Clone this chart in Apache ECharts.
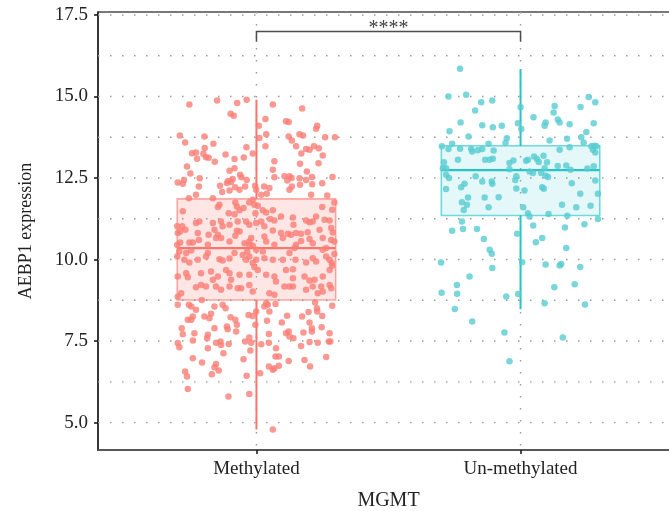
<!DOCTYPE html>
<html>
<head>
<meta charset="utf-8">
<title>AEBP1 expression by MGMT status</title>
<script src="https://cdn.jsdelivr.net/npm/echarts@6/dist/echarts.min.js"></script>
<style>
  html, body { margin: 0; padding: 0; background: #ffffff; }
  #chart { width: 669px; height: 511px; }
</style>
</head>
<body>
<div id="chart"></div>
<script>
// ---- data ---------------------------------------------------------------
const categories = ['Methylated', 'Un-methylated'];
const yTickValues = [5, 7.5, 10, 12.5, 15, 17.5];
const yGridValues = [5, 6.25, 7.5, 8.75, 10, 11.25, 12.5, 13.75, 15, 16.25, 17.5];

// lower whisker, Q1, median, Q3, upper whisker
const methylatedBox = [4.79, 8.76, 10.35, 11.86, 14.90];
const unmethylatedBox = [8.48, 11.35, 12.74, 13.49, 15.84];

// significance bracket between the two groups
const bracketLevel = 16.99;
const bracketTip = 16.68;
const signifLabel = '****';

// jittered samples: [horizontal jitter (category units), AEBP1 expression]
const methylatedPoints = [
  [-0.254,14.75],[-0.149,14.88],[-0.073,14.80],[-0.037,14.90],[0.062,14.75],[0.173,14.63],
  [-0.098,14.47],[-0.086,14.41],[0.034,14.31],[0.009,14.10],[0.112,14.24],[0.122,14.22],
  [0.230,14.10],[0.226,14.01],[-0.290,13.80],[-0.197,13.77],[-0.270,13.59],[-0.163,13.55],
  [0.037,13.84],[0.011,13.73],[0.122,13.77],[0.163,13.84],[0.176,13.80],[0.260,13.75],
  [0.297,13.75],[0.134,13.65],[0.034,13.47],[-0.038,13.44],[0.150,13.47],[0.218,13.47],
  [0.236,13.41],[0.188,13.39],[0.201,13.37],[-0.196,13.42],[-0.244,13.26],[-0.229,13.28],
  [-0.201,13.24],[-0.225,13.09],[-0.191,13.14],[-0.181,13.12],[-0.117,13.22],[-0.014,13.25],
  [-0.048,13.13],[-0.083,13.08],[-0.158,13.00],[0.170,13.25],[0.251,13.19],[0.068,13.01],
  [0.165,12.94],[0.235,12.95],[-0.263,12.85],[-0.250,12.64],[-0.083,12.80],[-0.102,12.72],
  [-0.062,12.60],[0.062,12.75],[0.191,12.70],[-0.215,12.49],[-0.274,12.44],[-0.298,12.36],
  [-0.279,12.32],[-0.057,12.52],[-0.037,12.44],[-0.107,12.41],[-0.090,12.47],[-0.096,12.38],
  [-0.112,12.35],[0.068,12.52],[0.106,12.55],[0.125,12.55],[0.133,12.50],[0.163,12.49],
  [0.188,12.44],[0.210,12.53],[0.288,12.53],[0.117,12.42],[0.211,12.31],[0.249,12.34],
  [-0.218,12.24],[-0.138,12.26],[-0.081,12.22],[-0.043,12.24],[-0.005,12.26],[0.029,12.24],
  [0.049,12.19],[0.165,12.29],[0.134,12.24],
  [-0.130,12.07],[-0.102,12.12],[-0.064,12.14],[-0.001,12.14],[0.018,11.99],[0.039,12.02],
  [0.125,12.14],[0.207,11.99],[0.268,11.96],[-0.229,11.99],[-0.165,11.88],[-0.256,11.88],
  [-0.279,11.48],[-0.140,11.68],[-0.146,11.61],[-0.080,11.75],[-0.074,11.63],[-0.027,11.75],
  [-0.014,11.83],[-0.008,11.68],[0.005,11.65],[0.024,11.51],[0.037,11.44],[-0.004,11.42],
  [-0.064,11.51],[-0.049,11.58],[-0.083,11.39],[-0.105,11.42],[0.295,11.75],[0.287,11.53],
  [0.249,11.61],[0.226,11.32],[0.213,11.17],[0.201,11.14],[0.188,11.20],[0.258,11.22],
  [0.277,11.20],[0.138,11.29],[0.140,11.07],[0.093,11.32],[0.062,11.51],
  [-0.300,11.02],[-0.281,11.02],[-0.289,10.86],[-0.298,10.81],[-0.269,10.91],[-0.229,11.12],
  [-0.216,11.17],[-0.222,10.81],[-0.165,11.12],[-0.134,11.17],[-0.128,11.02],[-0.102,11.07],
  [-0.071,11.17],[-0.039,11.17],[-0.027,11.07],[-0.001,11.12],[0.018,11.17],[0.030,11.02],
  [0.052,11.24],[0.068,11.20],[0.062,10.89],[0.093,10.81],[0.119,10.79],[0.131,10.76],
  [0.150,10.81],[0.169,10.79],[0.194,10.84],[0.239,10.91],[0.289,10.83],[0.283,10.97],
  [-0.064,10.86],[-0.074,10.88],[-0.159,10.91],[-0.181,10.76],[-0.146,10.76],
  [-0.300,10.45],[-0.289,10.52],[-0.254,10.52],[-0.241,10.52],[-0.218,10.60],[-0.184,10.45],
  [-0.153,10.66],[-0.134,10.66],[-0.102,10.55],[-0.080,10.73],[-0.045,10.50],[-0.027,10.55],
  [-0.020,10.66],[-0.014,10.42],[-0.001,10.30],[-0.027,10.45],[0.037,10.55],[0.068,10.45],
  [0.100,10.66],[0.150,10.45],[0.169,10.57],[0.201,10.63],[0.213,10.50],[0.251,10.66],
  [0.283,10.60],[0.295,10.55],[0.264,10.35],[0.030,10.71],
  [-0.300,10.09],[-0.292,10.25],[-0.266,10.20],[-0.247,10.28],[-0.273,9.99],[-0.254,9.91],
  [-0.222,9.99],[-0.191,10.09],[-0.184,10.20],[-0.140,10.01],[-0.128,9.97],[-0.102,10.03],
  [-0.083,10.20],[-0.052,10.14],[-0.035,10.25],[-0.027,10.09],[-0.039,9.99],[-0.014,9.89],
  [-0.001,9.99],[0.024,10.25],[0.030,10.04],[0.062,9.99],[0.100,9.99],[0.125,10.20],
  [0.144,10.35],[0.148,9.99],[0.188,9.91],[0.213,10.04],[0.226,9.94],[0.251,10.30],
  [0.264,10.09],[0.277,9.99],[0.285,9.89],[0.295,10.17],
  [-0.298,9.48],[-0.266,9.58],[-0.260,9.46],[-0.210,9.58],[-0.172,9.63],[-0.165,9.38],
  [-0.146,9.48],[-0.115,9.68],[-0.102,9.58],[-0.096,9.38],[-0.064,9.53],[-0.027,9.53],
  [-0.008,9.77],[0.005,9.68],[0.037,9.53],[0.068,9.48],[0.074,9.33],[0.112,9.68],
  [0.138,9.70],[0.138,9.43],[0.182,9.48],[0.201,9.36],[0.220,9.38],[0.251,9.48],
  [0.277,9.68],[0.287,9.81],
  [-0.298,8.86],[-0.285,8.97],[-0.229,9.15],[-0.210,9.22],[-0.191,9.17],[-0.153,9.17],
  [-0.134,9.07],[-0.102,9.17],[-0.071,9.12],[-0.058,9.12],[-0.027,9.22],[-0.014,9.02],
  [0.049,8.97],[0.068,8.92],[0.106,9.17],[0.125,9.17],[0.138,9.17],[0.188,9.07],
  [0.213,9.17],[0.232,8.97],[0.245,9.17],[0.251,9.02],[0.277,9.22],[0.283,9.12],
  [-0.298,8.61],[-0.256,8.61],[-0.247,8.56],[-0.229,8.46],[-0.241,8.25],[-0.260,8.15],
  [-0.247,8.15],[-0.283,7.89],[-0.279,7.71],[-0.235,7.74],[-0.241,7.52],[-0.207,8.76],
  [-0.197,8.25],[-0.178,8.20],[-0.172,8.34],[-0.159,8.56],[-0.128,8.61],[-0.117,8.51],
  [-0.098,8.23],[-0.080,8.15],[-0.074,8.00],[-0.077,7.79],[-0.112,7.95],[-0.109,7.86],
  [-0.159,7.89],[-0.184,7.69],[-0.187,7.59],[-0.153,7.45],[-0.136,7.49],[-0.134,7.38],
  [-0.125,7.13],[-0.105,7.41],[-0.184,7.28],[-0.241,6.97],[-0.206,6.84],[-0.298,7.44],
  [-0.292,7.31],[-0.270,6.57],[-0.263,6.41],[-0.260,6.03],[-0.159,6.70],[-0.143,6.60],
  [-0.153,6.80],[-0.169,6.48],[-0.106,5.80],[-0.049,6.94],[-0.037,6.44],[-0.027,5.88],
  [-0.023,7.21],[-0.020,7.45],[-0.043,7.49],[-0.027,7.61],[-0.030,8.30],[-0.014,8.27],
  [-0.001,8.41],[-0.004,8.00],[0.030,8.56],[0.043,8.61],[0.049,8.41],[0.037,8.66],
  [0.072,8.64],[0.040,8.12],[0.047,7.72],[0.047,7.45],[0.018,7.40],[0.074,7.28],
  [0.072,7.03],[0.085,7.03],[0.047,6.72],[0.062,6.62],[0.068,6.67],[0.085,6.74],
  [0.014,6.51],[0.062,4.79],[0.096,8.07],[0.116,8.28],[0.122,7.79],[0.112,7.74],
  [0.125,7.64],[0.140,7.59],[0.122,6.89],[0.169,7.35],[0.173,8.25],[0.178,7.76],
  [0.197,8.39],[0.201,8.07],[0.210,7.89],[0.210,7.79],[0.201,7.47],[0.182,6.92],
  [0.203,6.72],[0.229,8.51],[0.230,8.41],[0.249,8.27],[0.247,7.92],[0.232,7.45],
  [0.277,7.74],[0.274,7.49],[0.280,7.49],[0.264,7.01],[0.287,8.58],[0.222,8.68]
];

const unmethylatedPoints = [
  [-0.229,15.85],[-0.273,15.00],[-0.206,15.05],[-0.149,14.82],[-0.107,14.88],[-0.172,14.57],
  [0.000,14.67],[-0.227,14.20],[-0.269,13.93],[-0.145,14.12],[-0.105,14.06],[-0.071,14.10],
  [-0.010,14.18],[0.003,14.00],[0.049,14.36],[0.095,14.20],[0.091,14.10],[0.129,14.71],
  [0.125,14.51],[0.141,14.29],[0.148,14.20],[0.186,14.15],[0.227,14.68],[0.258,14.98],
  [0.283,14.82],[0.277,14.18],[0.249,13.91],[0.230,13.75],[0.239,13.59],[-0.197,13.77],
  [-0.052,13.72],[-0.057,13.57],[0.176,13.70],[0.110,13.65],[-0.298,13.47],[-0.259,13.55],
  [-0.273,13.39],[-0.229,13.40],[-0.187,13.39],[-0.183,13.31],[-0.162,13.35],[-0.145,13.39],
  [-0.121,13.55],[-0.102,13.34],[0.186,13.44],[0.148,13.37],[0.268,13.47],[0.280,13.49],
  [0.274,13.37],[0.287,13.47],[0.283,13.28],[-0.290,12.98],[-0.294,12.80],[-0.282,12.80],
  [-0.237,13.06],[-0.134,13.06],[-0.117,13.06],[-0.105,13.09],[-0.042,12.96],[-0.027,13.04],
  [0.021,13.03],[0.028,13.06],[0.051,13.16],[0.062,13.08],[0.069,12.99],[0.087,13.18],
  [0.100,12.98],[0.091,12.80],[0.141,12.87],[0.173,12.88],[0.189,12.75],[0.253,12.79],
  [0.277,12.86],[-0.042,12.77],
  [-0.282,12.60],[-0.271,12.50],[-0.170,12.55],[-0.145,12.39],[-0.109,12.39],[-0.107,12.32],
  [-0.016,12.55],[-0.020,12.44],[0.034,12.70],[0.047,12.65],[0.078,12.65],[0.095,12.57],
  [0.104,12.53],[0.283,12.42],[-0.282,12.16],[-0.225,12.22],[-0.212,12.32],[-0.199,11.90],
  [-0.136,11.90],[-0.083,11.91],[-0.016,12.18],[0.015,12.12],[0.082,12.22],[0.088,12.17],
  [0.194,12.34],[0.226,12.02],[0.293,12.02],[-0.222,11.76],[-0.203,11.68],[-0.215,11.52],
  [-0.121,11.60],[0.010,11.60],[0.157,11.68],[0.211,11.60],[0.265,11.65],[0.028,11.42],
  [0.034,11.32],[0.106,11.40],[0.177,11.34],[0.293,11.24],[-0.222,11.17],[-0.259,10.88],
  [-0.218,10.94],[-0.165,10.94],[-0.013,10.79],[0.048,11.04],[0.082,10.66],[0.058,10.53],
  [0.168,10.98],[0.242,11.08],[-0.139,10.63],[-0.117,10.30],[-0.109,10.18],[0.173,10.35],
  [-0.301,9.91],[0.006,9.92],[0.095,9.85],[0.148,9.82],[0.154,9.86],[0.226,9.77],
  [-0.107,9.74],[-0.193,9.48],[-0.241,9.22],[-0.240,8.95],[-0.299,8.98],[-0.054,8.87],
  [-0.009,8.94],[0.128,9.15],[0.205,9.24],[-0.249,8.48],[0.091,8.66],[0.244,8.62],
  [-0.183,8.10],[-0.061,7.76],[0.160,7.61],[-0.042,6.88]
];

// ---- drawing ------------------------------------------------------------
const FONT = 'Liberation Serif';
const TEXT = '#222222';
const palette = [
  { line: '#F8766D', point: '#FA7E75', fill: 'rgba(248,118,109,0.18)', edge: 'rgba(248,118,109,0.62)' },
  { line: '#27C4C9', point: '#57CCD1', fill: 'rgba(0,191,196,0.10)', edge: 'rgba(0,191,196,0.55)' }
];
const X_MIN = 0.4, X_MAX = 2.6, Y_MIN = 4.16, Y_MAX = 17.59;
const BOX_HALF = 0.3;

const chart = echarts.init(document.getElementById('chart'), null, { renderer: 'canvas' });

const dotted = { stroke: '#9c9c9c', lineWidth: 1.4, lineDash: [1.5, 10.5] };

function lineEl(a, b, style) {
  return { type: 'line', shape: { x1: a[0], y1: a[1], x2: b[0], y2: b[1] }, style: style };
}

const boxData = [[1].concat(methylatedBox), [2].concat(unmethylatedBox)];

const option = {
  animation: false,
  backgroundColor: '#ffffff',
  grid: {
    left: 98, top: 12, width: 581, height: 438,
    show: true, borderColor: '#4d4d4d', borderWidth: 1.5,
    containLabel: false, outerBoundsMode: 'none'
  },
  xAxis: {
    type: 'value', min: X_MIN, max: X_MAX,
    axisLine: { show: true, onZero: false, lineStyle: { color: '#4d4d4d', width: 1.5 } },
    axisTick: { show: true, customValues: [1, 2], length: 4, lineStyle: { color: '#111', width: 1.5 } },
    axisLabel: {
      customValues: [1, 2], margin: 10,
      formatter: function (v) { return categories[Math.round(v) - 1]; },
      fontFamily: FONT, fontSize: 19, color: TEXT
    },
    splitLine: { show: false },
    name: 'MGMT', nameLocation: 'middle', nameGap: 41,
    nameTextStyle: { fontFamily: FONT, fontSize: 20, color: TEXT }
  },
  yAxis: {
    type: 'value', min: Y_MIN, max: Y_MAX,
    axisLine: { show: true, onZero: false, lineStyle: { color: '#222', width: 1.5 } },
    axisTick: { show: true, customValues: yTickValues, length: 4, lineStyle: { color: '#111', width: 1.5 } },
    axisLabel: {
      customValues: yTickValues, margin: 10,
      formatter: function (v) { return v.toFixed(1); },
      fontFamily: FONT, fontSize: 19, color: TEXT
    },
    splitLine: { show: false },
    name: 'AEBP1 expression', nameLocation: 'middle', nameGap: 63,
    nameTextStyle: { fontFamily: FONT, fontSize: 18, color: TEXT }
  },
  series: [
    {
      // horizontal dotted gridlines
      type: 'custom', z: 1, silent: true,
      data: yGridValues.map(function (v) { return [1.5, v]; }),
      encode: { x: 0, y: 1 },
      renderItem: function (params, api) {
        const v = api.value(1);
        return lineEl(api.coord([X_MIN, v]), api.coord([X_MAX, v]), dotted);
      }
    },
    {
      // vertical dotted gridlines at the categories
      type: 'custom', z: 1, silent: true,
      data: [[1, 10], [2, 10]],
      encode: { x: 0, y: 1 },
      renderItem: function (params, api) {
        const c = api.value(0);
        return lineEl(api.coord([c, Y_MAX]), api.coord([c, Y_MIN]), dotted);
      }
    },
    {
      // box and whiskers
      type: 'custom', z: 2, silent: true,
      data: boxData,
      encode: { x: 0, y: [1, 2, 3, 4, 5] },
      renderItem: function (params, api) {
        const c = api.value(0);
        const lo = api.value(1), q1 = api.value(2), med = api.value(3), q3 = api.value(4), hi = api.value(5);
        const col = palette[params.dataIndex];
        const tl = api.coord([c - BOX_HALF, q3]);
        const br = api.coord([c + BOX_HALF, q1]);
        const whisker = { stroke: col.line, lineWidth: 2 };
        return {
          type: 'group',
          children: [
            lineEl(api.coord([c, q3]), api.coord([c, hi]), whisker),
            lineEl(api.coord([c, q1]), api.coord([c, lo]), whisker),
            {
              type: 'rect',
              shape: { x: tl[0], y: tl[1], width: br[0] - tl[0], height: br[1] - tl[1] },
              style: { fill: col.fill, stroke: col.edge, lineWidth: 1.6 }
            },
            lineEl(api.coord([c - BOX_HALF, med]), api.coord([c + BOX_HALF, med]),
              { stroke: col.line, lineWidth: 2.2 })
          ]
        };
      }
    },
    {
      type: 'scatter', z: 3, silent: true,
      symbolSize: 6.5,
      itemStyle: { color: palette[0].point },
      data: methylatedPoints.map(function (p) { return [1 + p[0], p[1]]; })
    },
    {
      type: 'scatter', z: 3, silent: true,
      symbolSize: 6.5,
      itemStyle: { color: palette[1].point },
      data: unmethylatedPoints.map(function (p) { return [2 + p[0], p[1]]; })
    },
    {
      // significance bracket
      type: 'custom', z: 4, silent: true,
      data: [[1.5, bracketLevel]],
      encode: { x: 0, y: 1 },
      renderItem: function (params, api) {
        const a = api.coord([1, bracketTip]);
        const b = api.coord([1, bracketLevel]);
        const c = api.coord([2, bracketLevel]);
        const d = api.coord([2, bracketTip]);
        const mid = api.coord([1.5, bracketLevel]);
        return {
          type: 'group',
          children: [
            {
              type: 'polyline',
              shape: { points: [a, b, c, d] },
              style: { stroke: '#4d4d4d', lineWidth: 1.5, fill: null }
            },
            {
              type: 'text',
              x: mid[0], y: mid[1] + 7,
              style: {
                text: signifLabel, align: 'center', verticalAlign: 'bottom',
                fontFamily: FONT, fontSize: 20, fill: '#444444'
              }
            }
          ]
        };
      }
    }
  ]
};

chart.setOption(option);
</script>
</body>
</html>
